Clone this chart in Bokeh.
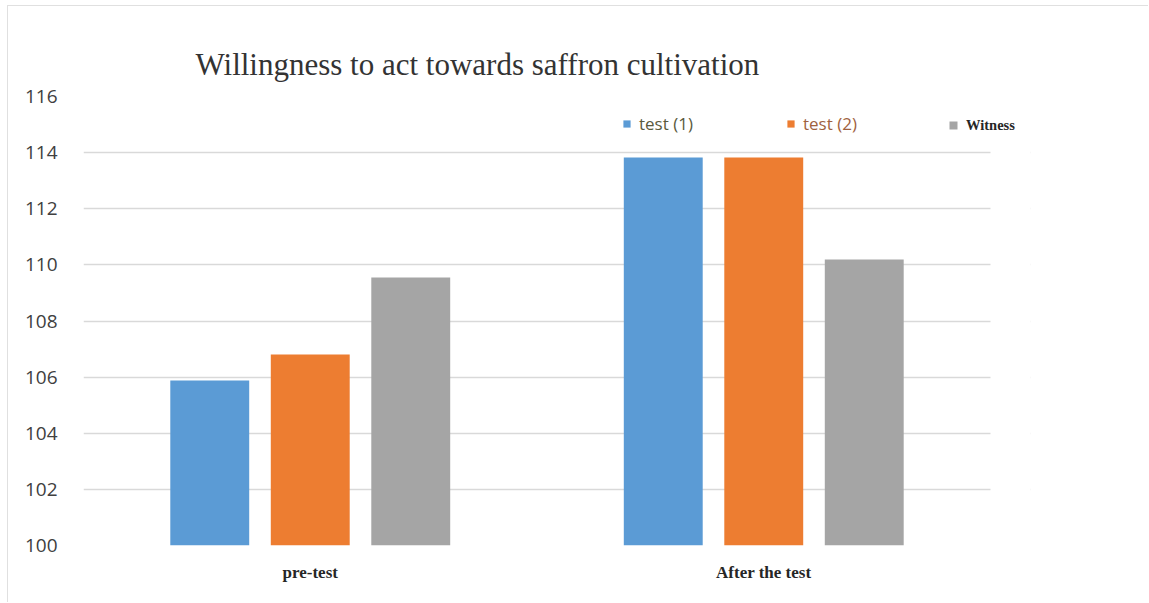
from bokeh.plotting import figure
from bokeh.models import (ColumnDataSource, FixedTicker, Legend, LegendItem, Range1d,
                          BoxAnnotation)
from bokeh.transform import dodge
from bokeh.embed import file_html
from bokeh.resources import INLINE

categories = ["pre-test", "After the test"]
series_names = ["test (1)", "test (2)", "Witness"]
test1 = [105.88, 113.83]
test2 = [106.81, 113.83]
witness = [109.55, 110.19]
y_ticks = [100, 102, 104, 106, 108, 110, 112, 114, 116]

colors = ["#5b9bd5", "#ed7d31", "#a5a5a5"]
label_colors = ["#5a5a3c", "#a0623e", "#262626"]
label_fonts = ["Open Sans", "Open Sans", "Liberation Serif"]
label_sizes = ["17px", "17px", "14.5px"]
label_styles = ["normal", "normal", "bold"]

centers = [i + 0.5 for i in range(len(categories))]
n_cat = len(categories)
extra = 40 / 453.5  # blank space right of the plot, where the legend runs over

source = ColumnDataSource(dict(x=centers, t1=test1, t2=test2, w=witness))

p = figure(x_range=Range1d(0, n_cat + extra), y_range=(100, 116),
           width=1141, height=597, output_backend="svg", toolbar_location=None,
           min_border_left=75, min_border_right=119, min_border_top=90, min_border_bottom=58)

p.title.text = "Willingness  to act towards saffron cultivation"
p.title.text_font = "Liberation Serif"
p.title.text_font_size = "31px"
p.title.text_font_style = "normal"
p.title.text_color = "#333333"
p.title.align = "left"
p.title.offset = 112
p.title.standoff = 30

offsets = [-0.2216, 0.0, 0.2216]
fields = ["t1", "t2", "w"]
renderers = []
for f, off, c in zip(fields, offsets, colors):
    r = p.vbar(x=dodge("x", off), top=f, bottom=100, width=0.174,
               source=source, fill_color=c, line_color=None)
    renderers.append(r)

# hide grid lines in the blank strip at the right
p.add_layout(BoxAnnotation(left=n_cat, fill_color="white", fill_alpha=1,
                           line_color=None, line_alpha=0))

legend_x = [539, 703, 865]
glyph_sizes = [9, 9, 10]
for i, r in enumerate(renderers):
    lg = Legend(items=[LegendItem(label=series_names[i], renderers=[r])],
                location=(legend_x[i], 410), orientation="horizontal",
                glyph_width=glyph_sizes[i], glyph_height=glyph_sizes[i],
                label_standoff=8, padding=0, margin=0,
                spacing=0, label_height=20,
                border_line_color=None, background_fill_alpha=0,
                label_text_font=label_fonts[i], label_text_font_size=label_sizes[i],
                label_text_color=label_colors[i], label_text_font_style=label_styles[i])
    p.add_layout(lg, "center")

p.yaxis.ticker = FixedTicker(ticks=y_ticks)
p.yaxis.axis_line_color = None
p.yaxis.major_tick_line_color = None
p.yaxis.minor_tick_line_color = None
p.yaxis.major_label_text_font = "Open Sans"
p.yaxis.major_label_text_font_size = "19px"
p.yaxis.major_label_text_color = "#404040"
p.yaxis.major_label_standoff = 20

p.xaxis.ticker = FixedTicker(ticks=centers)
p.xaxis.major_label_overrides = {c: name for c, name in zip(centers, categories)}
p.xaxis.axis_line_color = None
p.xaxis.major_tick_line_color = None
p.xaxis.minor_tick_line_color = None
p.xaxis.major_label_text_font = "Liberation Serif"
p.xaxis.major_label_text_font_style = "bold"
p.xaxis.major_label_text_font_size = "17px"
p.xaxis.major_label_text_color = "#262626"
p.xaxis.major_label_standoff = 11

p.xgrid.grid_line_color = None
p.ygrid.grid_line_color = "#d9d9d9"
p.ygrid.grid_line_width = 1.5
p.outline_line_color = None
p.background_fill_color = "white"
p.border_fill_color = "white"
p.styles = {"margin-left": "7px", "margin-top": "5px",
            "border-top": "1px solid #e0e0e0", "border-left": "1px solid #e0e0e0"}

open("out.html", "w").write(file_html(p, INLINE))
